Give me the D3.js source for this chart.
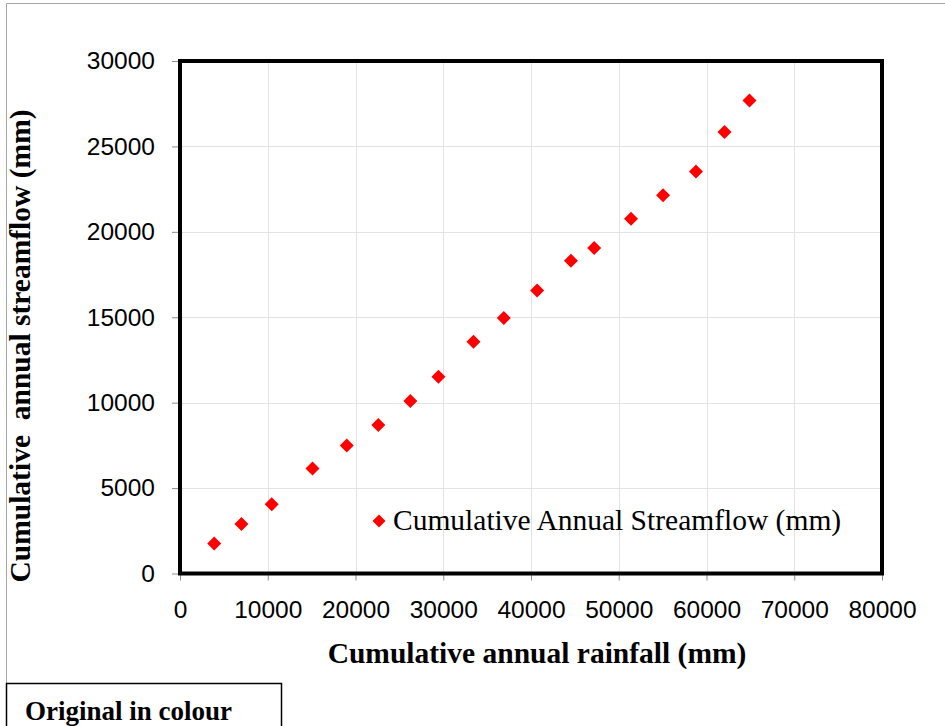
<!DOCTYPE html>
<html>
<head>
<meta charset="utf-8">
<script src="https://cdn.jsdelivr.net/npm/d3@7"></script>
<style>
  html, body { margin: 0; padding: 0; background: #fff; }
  svg { display: block; }
</style>
</head>
<body>
<svg id="chart" width="945" height="726"></svg>
<script>
// ---- data ----
const rainfall = [3900, 7000, 10450, 15100, 19000, 22600, 26250, 29450, 33450, 36900, 40700, 44550, 47200, 51400, 55050, 58800, 62050, 64900];
const streamflow = [1750, 2900, 4050, 6150, 7500, 8700, 10100, 11520, 13570, 14960, 16570, 18310, 19060, 20770, 22140, 23530, 25850, 27690];
const xTicks = [0, 10000, 20000, 30000, 40000, 50000, 60000, 70000, 80000];
const yTicks = [0, 5000, 10000, 15000, 20000, 25000, 30000];
const seriesName = "Cumulative Annual Streamflow (mm)";
const xTitle = "Cumulative annual rainfall (mm)";
const yTitle = "Cumulative\u00a0 annual streamflow (mm)";
const noteText = "Original in colour";

const svg = d3.select("#chart");
const W = 945, H = 726;
const plot = { left: 180, right: 882, top: 61, bottom: 573.5 };

const x = d3.scaleLinear().domain([0, 80000]).range([plot.left, plot.right]);
const y = d3.scaleLinear().domain([0, 30000]).range([plot.bottom, plot.top]);

// outer frame (top and left thin grey lines)
svg.append("line").attr("x1", 6.5).attr("x2", W).attr("y1", 3.5).attr("y2", 3.5)
  .attr("stroke", "#a6a6a6").attr("stroke-width", 1);
svg.append("line").attr("x1", 6.5).attr("x2", 6.5).attr("y1", 3.5).attr("y2", H)
  .attr("stroke", "#a6a6a6").attr("stroke-width", 1);

// gridlines
const grid = svg.append("g");
grid.selectAll(".gx").data(xTicks.slice(1, -1)).join("line")
  .attr("x1", d => Math.round(x(d)) + 0.5).attr("x2", d => Math.round(x(d)) + 0.5)
  .attr("y1", plot.top).attr("y2", plot.bottom)
  .attr("stroke", "#e3e3e3").attr("stroke-width", 1);
grid.selectAll(".gy").data(yTicks.slice(1, -1)).join("line")
  .attr("x1", plot.left).attr("x2", plot.right)
  .attr("y1", d => Math.round(y(d)) + 0.5).attr("y2", d => Math.round(y(d)) + 0.5)
  .attr("stroke", "#e3e3e3").attr("stroke-width", 1);

// axes (tick marks + labels)
const xAxis = d3.axisBottom(x).tickValues(xTicks).tickFormat(d3.format("d")).tickSize(7).tickPadding(20);
const yAxis = d3.axisLeft(y).tickValues(yTicks).tickFormat(d3.format("d")).tickSize(8).tickPadding(17);

const gx = svg.append("g").attr("transform", `translate(0,${plot.bottom})`).call(xAxis);
const gy = svg.append("g").attr("transform", `translate(${plot.left},0)`).call(yAxis);
[gx, gy].forEach(g => {
  g.select(".domain").remove();
  g.selectAll(".tick line").attr("stroke", "#8c8c8c").attr("stroke-width", 1);
  g.selectAll(".tick text")
    .attr("fill", "#000")
    .style("font-family", "'Liberation Sans', Arial, sans-serif")
    .style("font-size", "24.5px");
});

// plot frame
svg.append("rect")
  .attr("x", plot.left).attr("y", plot.top)
  .attr("width", plot.right - plot.left).attr("height", plot.bottom - plot.top)
  .attr("fill", "none").attr("stroke", "#000").attr("stroke-width", 4);

// diamond marker
const diamond = (r) => `M0,${-r}L${r},0L0,${r}L${-r},0Z`;

svg.append("g").selectAll("path").data(rainfall.map((v, i) => [v, streamflow[i]])).join("path")
  .attr("d", diamond(7))
  .attr("transform", d => `translate(${x(d[0])},${y(d[1])})`)
  .attr("fill", "#ff0000");

// legend
const lg = svg.append("g").attr("transform", "translate(379,521)");
lg.append("path").attr("d", diamond(6.5)).attr("fill", "#ff0000");
lg.append("text").attr("x", 14).attr("y", 9)
  .style("font-family", "'Liberation Serif', 'Times New Roman', serif")
  .style("font-size", "29.5px").attr("fill", "#000")
  .text(seriesName);

// axis titles
svg.append("text")
  .attr("x", 537).attr("y", 663)
  .attr("text-anchor", "middle")
  .style("font-family", "'Liberation Serif', 'Times New Roman', serif")
  .style("font-size", "29.5px").style("font-weight", "bold")
  .text(xTitle);

svg.append("text")
  .attr("transform", "translate(30,346) rotate(-90)")
  .attr("text-anchor", "middle")
  .style("font-family", "'Liberation Serif', 'Times New Roman', serif")
  .style("font-size", "29.5px").style("font-weight", "bold")
  .text(yTitle);

// note box
svg.append("rect").attr("x", 6.5).attr("y", 683.5).attr("width", 275).attr("height", 50)
  .attr("fill", "#fff").attr("stroke", "#000").attr("stroke-width", 1.5);
svg.append("text").attr("x", 25).attr("y", 720)
  .style("font-family", "'Liberation Serif', 'Times New Roman', serif")
  .style("font-size", "27px").style("font-weight", "bold")
  .text(noteText);
</script>
</body>
</html>
